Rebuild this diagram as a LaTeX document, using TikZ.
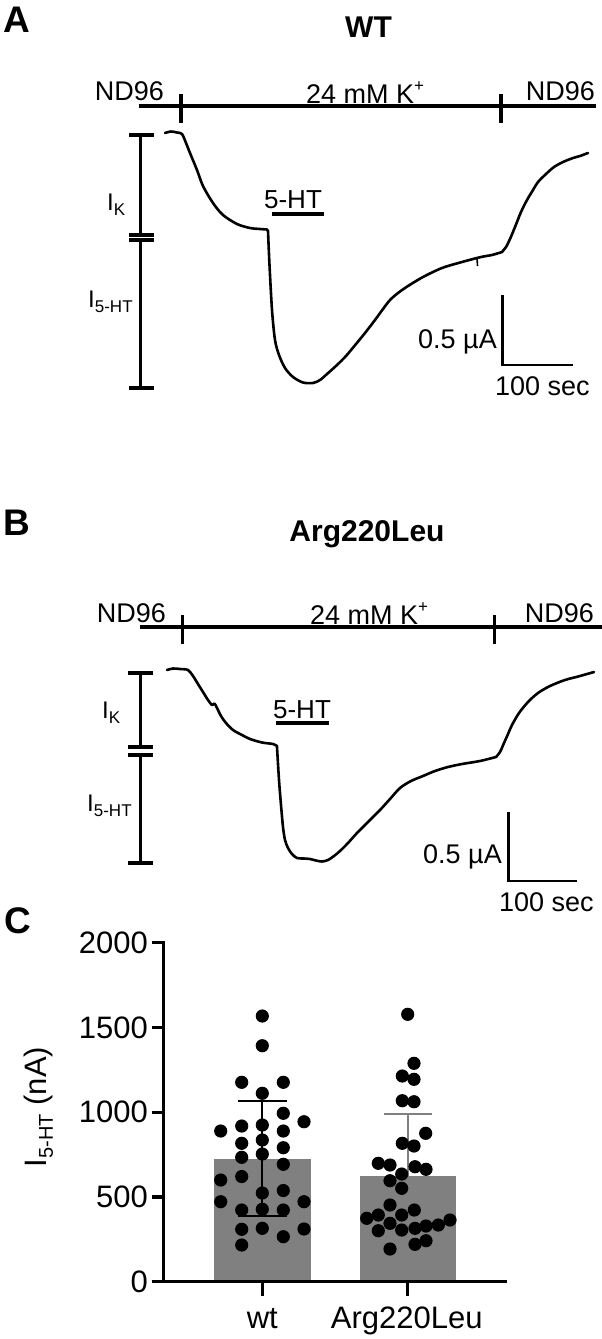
\documentclass[tikz,border=0pt]{standalone}
\usepackage{fontspec}
\setmainfont{Liberation Sans}
\newcommand{\fs}[1]{\fontsize{#1}{#1}\selectfont}
\newcommand{\mysub}[2][17]{\raisebox{-0.22em}{\fs{#1}#2}}
\newcommand{\mysup}[1]{\raisebox{0.42em}{\fs{17}#1}}
\begin{document}
\begin{tikzpicture}[x=1pt,y=-1pt,
  txt/.style={font=\fs{27}, inner sep=0pt, anchor=base},
  ttl/.style={font=\bfseries\fs{30}, inner sep=0pt, anchor=base},
  lett/.style={font=\bfseries\fs{37}, inner sep=0pt, anchor=north west},
  ilab/.style={font=\fs{24}, inner sep=0pt, anchor=base west},
  solbar/.style={line width=3.4pt},
  ibar/.style={line width=3.4pt},
  icap/.style={line width=4pt},
  trace/.style={line width=2.6pt, line join=round, line cap=round},
  scalebar/.style={line width=2.6pt, line join=miter},
  uline/.style={line width=4pt},
  dot/.style={fill=black},
  axisline/.style={line width=3.3pt},
]
\useasboundingbox (0,0) rectangle (602,1339);

% ================= Panel A =================
\node[lett] (lA) at (3,7) {A};
\node[ttl] (tA) at (368.5,37) {WT};
\draw[solbar] (138.5,106) -- (596,106);
\draw[solbar] (180.8,94) -- (180.8,123);
\draw[solbar] (501,94) -- (501,123);
\node[txt] (ndlA) at (129.5,100) {ND96};
\node[txt] (kA) at (365,103) {24 mM K\mysup{+}};
\node[txt] (ndrA) at (560.5,100) {ND96};
% I bars
\draw[ibar] (140.7,135) -- (140.7,235);
\draw[ibar] (140.7,240) -- (140.7,388);
\draw[icap] (129,135) -- (154,135);
\draw[icap] (129,234.8) -- (154,234.8);
\draw[icap] (129,240.2) -- (154,240.2);
\draw[icap] (129,388) -- (154,388);
\node[ilab] (ikA) at (107,210) {I\mysub{K}};
\node[ilab] (ihA) at (88,307) {I\mysub{5-HT}};
% 5-HT application
\node[txt, font=\fs{26}] (htA) at (293,208) {5-HT};
\draw[uline] (272,213.5) -- (324,213.5);
% trace A
\draw[trace] plot[smooth] coordinates {(165,133) (171,131.5) (177,132.5) (182,134) (186,143) (190,153) (197,170) (203,186) (213,203) (223,215) (237,224) (250,228) (260,229) (267,229.5)}
  -- plot[smooth] coordinates {(268,231) (269.5,265) (272,310) (275,340) (279,355) (285,368) (293,377) (303,382.5) (313,383) (320,380) (327,374) (337,365) (346,356) (356,344) (365,333) (375,320) (383,309) (390,300) (398,293) (408,286) (423,277) (442,268) (462,262) (481,257) (492,255) (502,252)}
  -- plot[smooth] coordinates {(502,252) (506,247) (510,239) (515,227) (521,212) (527,200) (533,190) (538,182) (546,174) (554,167) (563,162) (573,158) (580,156) (588,153)};
\draw[line width=1.6pt] (477,258) -- (477.5,266);
% scale bar A
\draw[scalebar] (502.7,295) -- (502.7,365) -- (572.7,365);
\node[txt, anchor=base west] (saA) at (418,348) {0.5 µA};
\node[txt, anchor=base west] (stA) at (495,395) {100 sec};

% ================= Panel B =================
\node[lett] (lB) at (3,510) {B};
\node[ttl] (tB) at (367,541.7) {Arg220Leu};
\draw[solbar] (140,627) -- (602,627);
\draw[solbar] (182.7,615) -- (182.7,644);
\draw[solbar] (494.2,615) -- (494.2,644);
\node[txt] (ndlB) at (131.5,622) {ND96};
\node[txt] (kB) at (369,624) {24 mM K\mysup{+}};
\node[txt] (ndrB) at (559.5,622) {ND96};
% I bars
\draw[ibar] (140.4,673) -- (140.4,747.5);
\draw[ibar] (140.4,754.5) -- (140.4,863.3);
\draw[icap] (128,673) -- (153,673);
\draw[icap] (128,747.3) -- (153,747.3);
\draw[icap] (128,754.7) -- (153,754.7);
\draw[icap] (128,863.3) -- (153,863.3);
\node[ilab] (ikB) at (102,718) {I\mysub{K}};
\node[ilab] (ihB) at (87,811.5) {I\mysub{5-HT}};
% 5-HT application
\node[txt, font=\fs{26}] (htB) at (302,718.3) {5-HT};
\draw[uline] (276,722.5) -- (329,722.5);
% trace B
\draw[trace] plot[smooth] coordinates {(167,670) (173,668.5) (180,669) (188,670) (193,676) (198,684) (203,692) (208,700) (212,705) (214.5,703.5) (217,708) (221,716) (226,723) (233,730) (242,735) (250,739) (262,742.5) (273,744) (277,746)}
  -- plot[smooth] coordinates {(277,747) (279,780) (281,805) (283,827) (285,840) (288,848) (292,854) (297,858) (304,858.5) (310,859) (316,860.5) (322,861.5) (328,860) (334,856) (340,851) (348,843) (357,833) (368,822) (380,810) (390,799) (400,788) (411,781) (423,776) (435,771) (448,767) (462,764) (480,761) (496,757)}
  -- plot[smooth] coordinates {(496,757) (500,752) (504,743) (508,734) (512,725) (519,713) (528,702) (538,693) (550,686) (565,680) (580,676) (594,672)};
% scale bar B
\draw[scalebar] (508.5,812) -- (508.5,881) -- (577,881);
\node[txt, anchor=base west] (saB) at (423,863) {0.5 µA};
\node[txt, anchor=base west] (stB) at (499,911.5) {100 sec};

% ================= Panel C =================
\node[lett] (lC) at (4,907) {C};
% bars
\fill[gray] (214,1281.7) rectangle (311,1159);
\fill[gray] (360,1281.7) rectangle (456,1176);
% Arg error bar (gray)
\draw[gray, line width=1.8pt] (407.7,1114.3) -- (407.7,1240);
\draw[gray, line width=1.8pt] (384.3,1114.3) -- (431.7,1114.3);
% dots wt
\foreach \p in {(262.3,1016),(262.3,1045.7),(241.7,1082.3),(283.3,1082.3),(262.3,1093.3),(283.3,1113.3),(304,1121.7),(220.7,1131),(241.7,1126),(262.3,1125),(283.3,1131),(241.7,1143.3),(262.3,1140),(283.3,1147.7),(241.7,1157.3),(262.3,1154),(283.3,1164.3),(220.7,1180),(241.7,1176.5),(262.3,1193),(283.3,1190.5),(220.7,1201.7),(304,1201.7),(241.7,1210),(262.3,1209.3),(283.3,1210),(241.7,1229.3),(262.3,1228.3),(283.3,1236.7),(304,1229),(241.7,1245)}
  \fill[dot] \p circle[radius=6.6pt];
% dots Arg220Leu
\foreach \p in {(407.7,1014.3),(414,1063.3),(402.3,1076),(414,1079.3),(402.3,1100.7),(414,1101.7),(425.7,1133.3),(402.3,1143.3),(414,1146),(378.3,1163.3),(390,1165),(415,1166.7),(426,1169.3),(401.7,1174),(390,1180.7),(401.7,1188.3),(390,1205),(414.3,1210),(366.7,1218.3),(378.3,1215),(401.7,1215),(450,1220),(390,1223.3),(415,1228.3),(426,1226),(438.3,1225),(378.3,1230.7),(401.7,1230),(415,1244.3),(426,1240.7),(390,1249)}
  \fill[dot] \p circle[radius=6.6pt];
% wt error bar (black)
\draw[line width=1.8pt] (262.3,1101) -- (262.3,1216);
\draw[line width=1.8pt] (238,1101) -- (286.7,1101);
\draw[line width=1.8pt] (238,1216) -- (286.7,1216);
% axes
\draw[axisline] (163.3,941) -- (163.3,1281.7);
\draw[axisline] (151.7,1281.7) -- (507,1281.7);
\foreach \v in {0,500,1000,1500,2000} {
  \draw[axisline] (151.7,{1281.7-0.1695*\v}) -- (163.3,{1281.7-0.1695*\v});
  \node[font=\fs{31}, inner sep=0pt, anchor=east] (yl\v) at (148,{1281.7-0.1695*\v}) {\v};
}
\draw[axisline] (262.3,1281.7) -- (262.3,1295.7);
\draw[axisline] (407.7,1281.7) -- (407.7,1295.7);
\node[font=\fs{31}, inner sep=0pt, anchor=base] (xwt) at (262.3,1328) {wt};
\node[font=\fs{31}, inner sep=0pt, anchor=base] (xarg) at (406.7,1328) {Arg220Leu};
\node[font=\fs{31}, inner sep=0pt, anchor=base, rotate=90] (ylab) at (46,1107) {I\mysub[20]{5-HT} (nA)};
\end{tikzpicture}
\end{document}
